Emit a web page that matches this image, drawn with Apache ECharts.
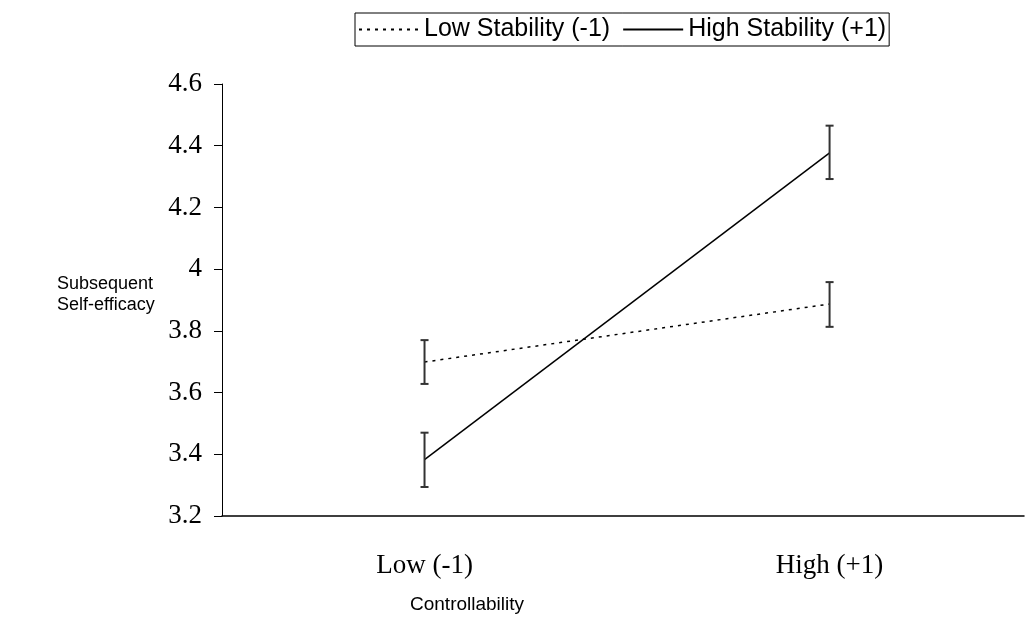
<!DOCTYPE html>
<html>
<head>
<meta charset="utf-8">
<script src="https://cdn.jsdelivr.net/npm/echarts@6/dist/echarts.min.js"></script>
<style>html,body{margin:0;padding:0;background:#fff}#c{width:1027px;height:622px}</style>
</head>
<body>
<div id="c"></div>
<script>
// Data
const categories = ['Low (-1)', 'High (+1)'];
const categoryX = [-1, 1];
const seriesNames = ['Low Stability (-1)', 'High Stability (+1)'];
const lowStability = [3.699, 3.887];
const highStability = [3.383, 4.377];
const lowStabilityErrLow = [3.628, 3.813];
const lowStabilityErrHigh = [3.770, 3.958];
const highStabilityErrLow = [3.294, 4.292];
const highStabilityErrHigh = [3.470, 4.465];
const yTicks = [3.2, 3.4, 3.6, 3.8, 4, 4.2, 4.4, 4.6];

const chart = echarts.init(document.getElementById('c'), null, {renderer: 'canvas'});

function lineData(vals) { return vals.map((v, i) => [categoryX[i], v]); }
function errData(lo, hi) { return lo.map((v, i) => [categoryX[i], v, hi[i]]); }

function errRender(params, api) {
  const x = api.value(0);
  const lo = api.coord([x, api.value(1)]);
  const hi = api.coord([x, api.value(2)]);
  const w = 4;
  const style = {stroke: '#333', lineWidth: 2};
  return {
    type: 'group',
    children: [
      {type: 'line', shape: {x1: lo[0], y1: lo[1], x2: hi[0], y2: hi[1]}, style},
      {type: 'line', shape: {x1: lo[0] - w, y1: lo[1], x2: lo[0] + w, y2: lo[1]}, style},
      {type: 'line', shape: {x1: hi[0] - w, y1: hi[1], x2: hi[0] + w, y2: hi[1]}, style}
    ]
  };
}

const option = {
  animation: false,
  backgroundColor: '#fff',
  grid: {left: 222, right: 2, top: 84, bottom: 106, containLabel: false},
  legend: {
    left: 355, top: 13,
    data: seriesNames,
    itemWidth: 60, itemHeight: 14, itemGap: 12,
    itemStyle: {opacity: 0},
    borderColor: '#000', borderWidth: 1, borderRadius: 0,
    padding: [4, 3, 4, 3],
    textStyle: {fontFamily: 'Liberation Sans, Arial, sans-serif', fontSize: 25, color: '#000'}
  },
  xAxis: {
    type: 'value', min: -2, max: 1.96, interval: 1,
    axisLine: {show: true, onZero: false, lineStyle: {color: '#000', width: 1.5}},
    axisTick: {show: false},
    splitLine: {show: false},
    axisLabel: {
      margin: 36,
      fontFamily: 'Liberation Serif, Times New Roman, serif', fontSize: 27, color: '#000',
      formatter: v => { const i = categoryX.indexOf(Math.round(v)); return (Math.abs(v - Math.round(v)) < 1e-6 && i >= 0) ? categories[i] : ''; }
    }
  },
  yAxis: {
    type: 'value', min: 3.2, max: 4.6, interval: 0.2,
    axisLine: {show: true, onZero: false, lineStyle: {color: '#000', width: 1}},
    axisTick: {show: true, length: 8, lineStyle: {color: '#000'}},
    splitLine: {show: false},
    axisLabel: {
      margin: 20,
      fontFamily: 'Liberation Serif, Times New Roman, serif', fontSize: 27, color: '#000',
      formatter: v => { const t = yTicks.find(t => Math.abs(t - v) < 1e-6); return t === undefined ? '' : String(t); }
    }
  },
  graphic: [
    {type: 'text', left: 57, top: 274, style: {text: 'Subsequent\nSelf-efficacy', fontFamily: 'Liberation Sans, Arial, sans-serif', fontSize: 18, lineHeight: 21, fill: '#000', textAlign: 'left'}},
    {type: 'text', left: 410, top: 595, style: {text: 'Controllability', fontFamily: 'Liberation Sans, Arial, sans-serif', fontSize: 19, fill: '#000'}}
  ],
  series: [
    {
      name: seriesNames[0], type: 'line', data: lineData(lowStability), symbol: 'none',
      lineStyle: {color: '#000', width: 1.5, type: [3, 5]}, itemStyle: {color: '#000'}, z: 3
    },
    {
      name: seriesNames[1], type: 'line', data: lineData(highStability), symbol: 'none',
      lineStyle: {color: '#000', width: 1.5, type: 'solid'}, itemStyle: {color: '#000'}, z: 3
    },
    {type: 'custom', renderItem: errRender, data: errData(lowStabilityErrLow, lowStabilityErrHigh), z: 4, silent: true},
    {type: 'custom', renderItem: errRender, data: errData(highStabilityErrLow, highStabilityErrHigh), z: 4, silent: true}
  ]
};
chart.setOption(option);
</script>
</body>
</html>
